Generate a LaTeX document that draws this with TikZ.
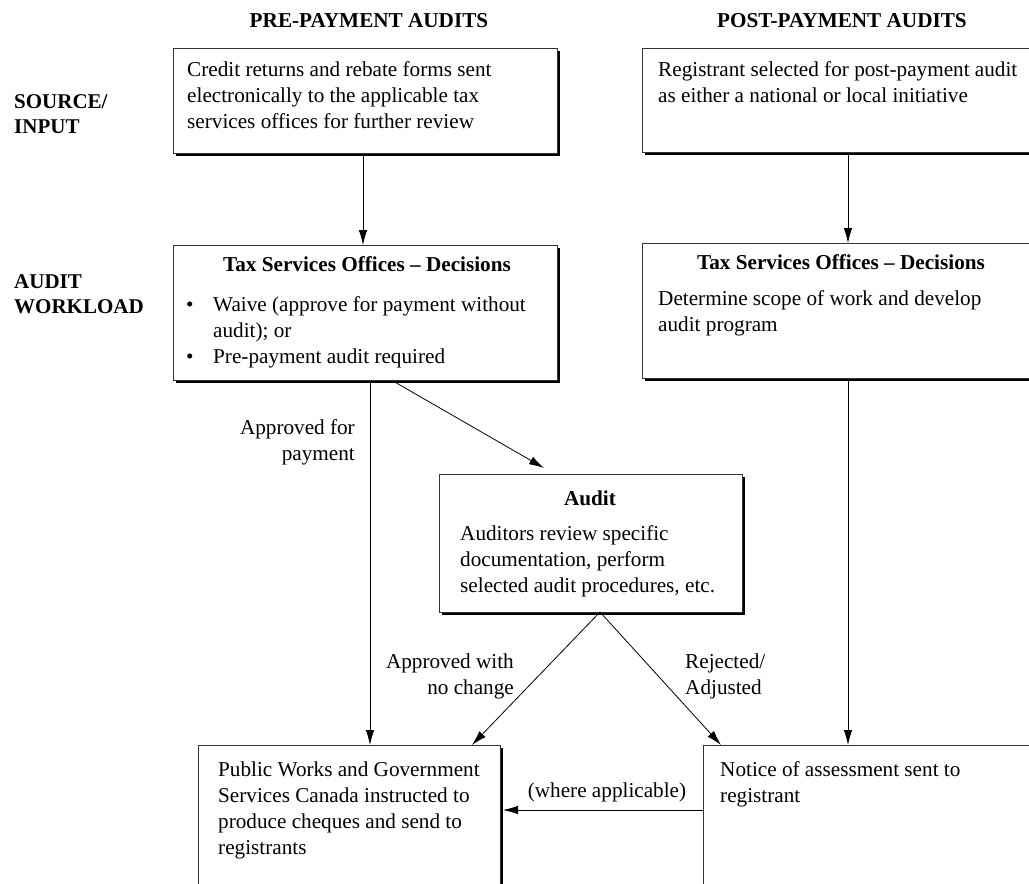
\documentclass[tikz,border=0pt]{standalone}
\usepackage{fontspec}
\setmainfont{Liberation Serif}
\usetikzlibrary{shadows,arrows.meta}
\begin{document}
\begin{tikzpicture}[x=1pt,y=-1pt,
  box/.style={draw=black!80, line width=0.8pt, fill=white, rectangle, anchor=north west, inner sep=0pt,
    drop shadow={shadow xshift=3pt, shadow yshift=-3pt, fill=black, opacity=1}},
  txt/.style={anchor=north west, inner sep=0pt, align=left, font=\fontsize{21.2}{26}\selectfont},
  ttl/.style={anchor=north, inner sep=0pt, font=\fontsize{21.2}{26}\selectfont\bfseries},
  hdr/.style={anchor=north, inner sep=0pt, font=\fontsize{21.2}{26}\selectfont\bfseries},
  side/.style={anchor=north west, inner sep=0pt, align=left, font=\fontsize{21}{25}\selectfont\bfseries},
  lbl/.style={inner sep=0pt, font=\fontsize{21.2}{26}\selectfont},
  conn/.style={line width=0.8pt, -{Latex[length=15pt,width=8.5pt]}}
]
\clip (0,0) rectangle (1029,884);
\useasboundingbox (0,0) rectangle (1029,884);

% headers
\node[hdr] (h1) at (369,9) {\strut PRE-PAYMENT AUDITS};
\node[hdr] (h2) at (842,9) {\strut POST-PAYMENT AUDITS};
\node[side] (s1) at (14,90.5) {\strut SOURCE/\\INPUT};
\node[side] (s2) at (14,270.5) {\strut AUDIT\\WORKLOAD};

% boxes
\node[box, minimum width=384pt, minimum height=105pt] (b1) at (173,48) {};
\node[box, minimum width=400pt, minimum height=104pt] (b2) at (642,48) {};
\node[box, minimum width=384pt, minimum height=135pt] (b3) at (173,245) {};
\node[box, minimum width=400pt, minimum height=135pt] (b4) at (642,243) {};
\node[box, minimum width=303pt, minimum height=138pt] (b5) at (439,474) {};
\node[box, minimum width=302pt, minimum height=160pt] (b6) at (198,745) {};
\node[box, minimum width=400pt, minimum height=160pt] (b7) at (703,745) {};

% texts
\node[txt] (t1) at (187,58) {\strut Credit returns and rebate forms sent\\electronically to the applicable tax\\services offices for further review};
\node[txt] (t2) at (658,58) {\strut Registrant selected for post-payment audit\\as either a national or local initiative};
\node[ttl] (t3a) at (367,253.5) {\strut Tax Services Offices -- Decisions};
\node[txt] (t3b) at (186,293.5) {\strut\makebox[27pt][l]{\textbullet}Waive (approve for payment without\\\hspace*{27pt}audit); or\\\makebox[27pt][l]{\textbullet}Pre-payment audit required};
\node[ttl] (t4a) at (841,251) {\strut Tax Services Offices -- Decisions};
\node[txt] (t4b) at (658,287) {\strut Determine scope of work and develop\\audit program};
\node[ttl] (t5a) at (590,487) {\strut Audit};
\node[txt] (t5b) at (460,522) {\strut Auditors review specific\\documentation, perform\\selected audit procedures, etc.};
\node[txt] (t6) at (218,758) {\strut Public Works and Government\\Services Canada instructed to\\produce cheques and send to\\registrants};
\node[txt] (t7) at (720,758) {\strut Notice of assessment sent to\\registrant};

% connector points
\coordinate (p3) at (393,381);
\coordinate (p5) at (600,612);

% connectors
\draw[conn] (b1.south -| 363,0) -- (b3.north -| 363,0);
\draw[conn] (b2.south -| 848,0) -- (b4.north -| 848,0);
\draw[conn] (p3) -- (544,468);
\draw[conn] (b3.south -| 370,0) -- (b6.north -| 370,0);
\draw[conn] (b4.south -| 848,0) -- (b7.north -| 848,0);
\draw[conn] (p5) -- (b6.north -| 472,0);
\draw[conn] (p5) -- (b7.north -| 721,0);
\draw[conn] (b7.west |- 0,810) -- (503,810);

% labels
\node[lbl, anchor=north east, align=right] (l1) at (355,416) {\strut Approved for\\payment};
\node[lbl, anchor=north east, align=right] (l2) at (514,650) {\strut Approved with\\no change};
\node[lbl, anchor=north west, align=left] (l3) at (685,650) {\strut Rejected/\\Adjusted};
\node[lbl, anchor=north] (l4) at (607,779) {\strut (where applicable)};
\end{tikzpicture}
\end{document}
